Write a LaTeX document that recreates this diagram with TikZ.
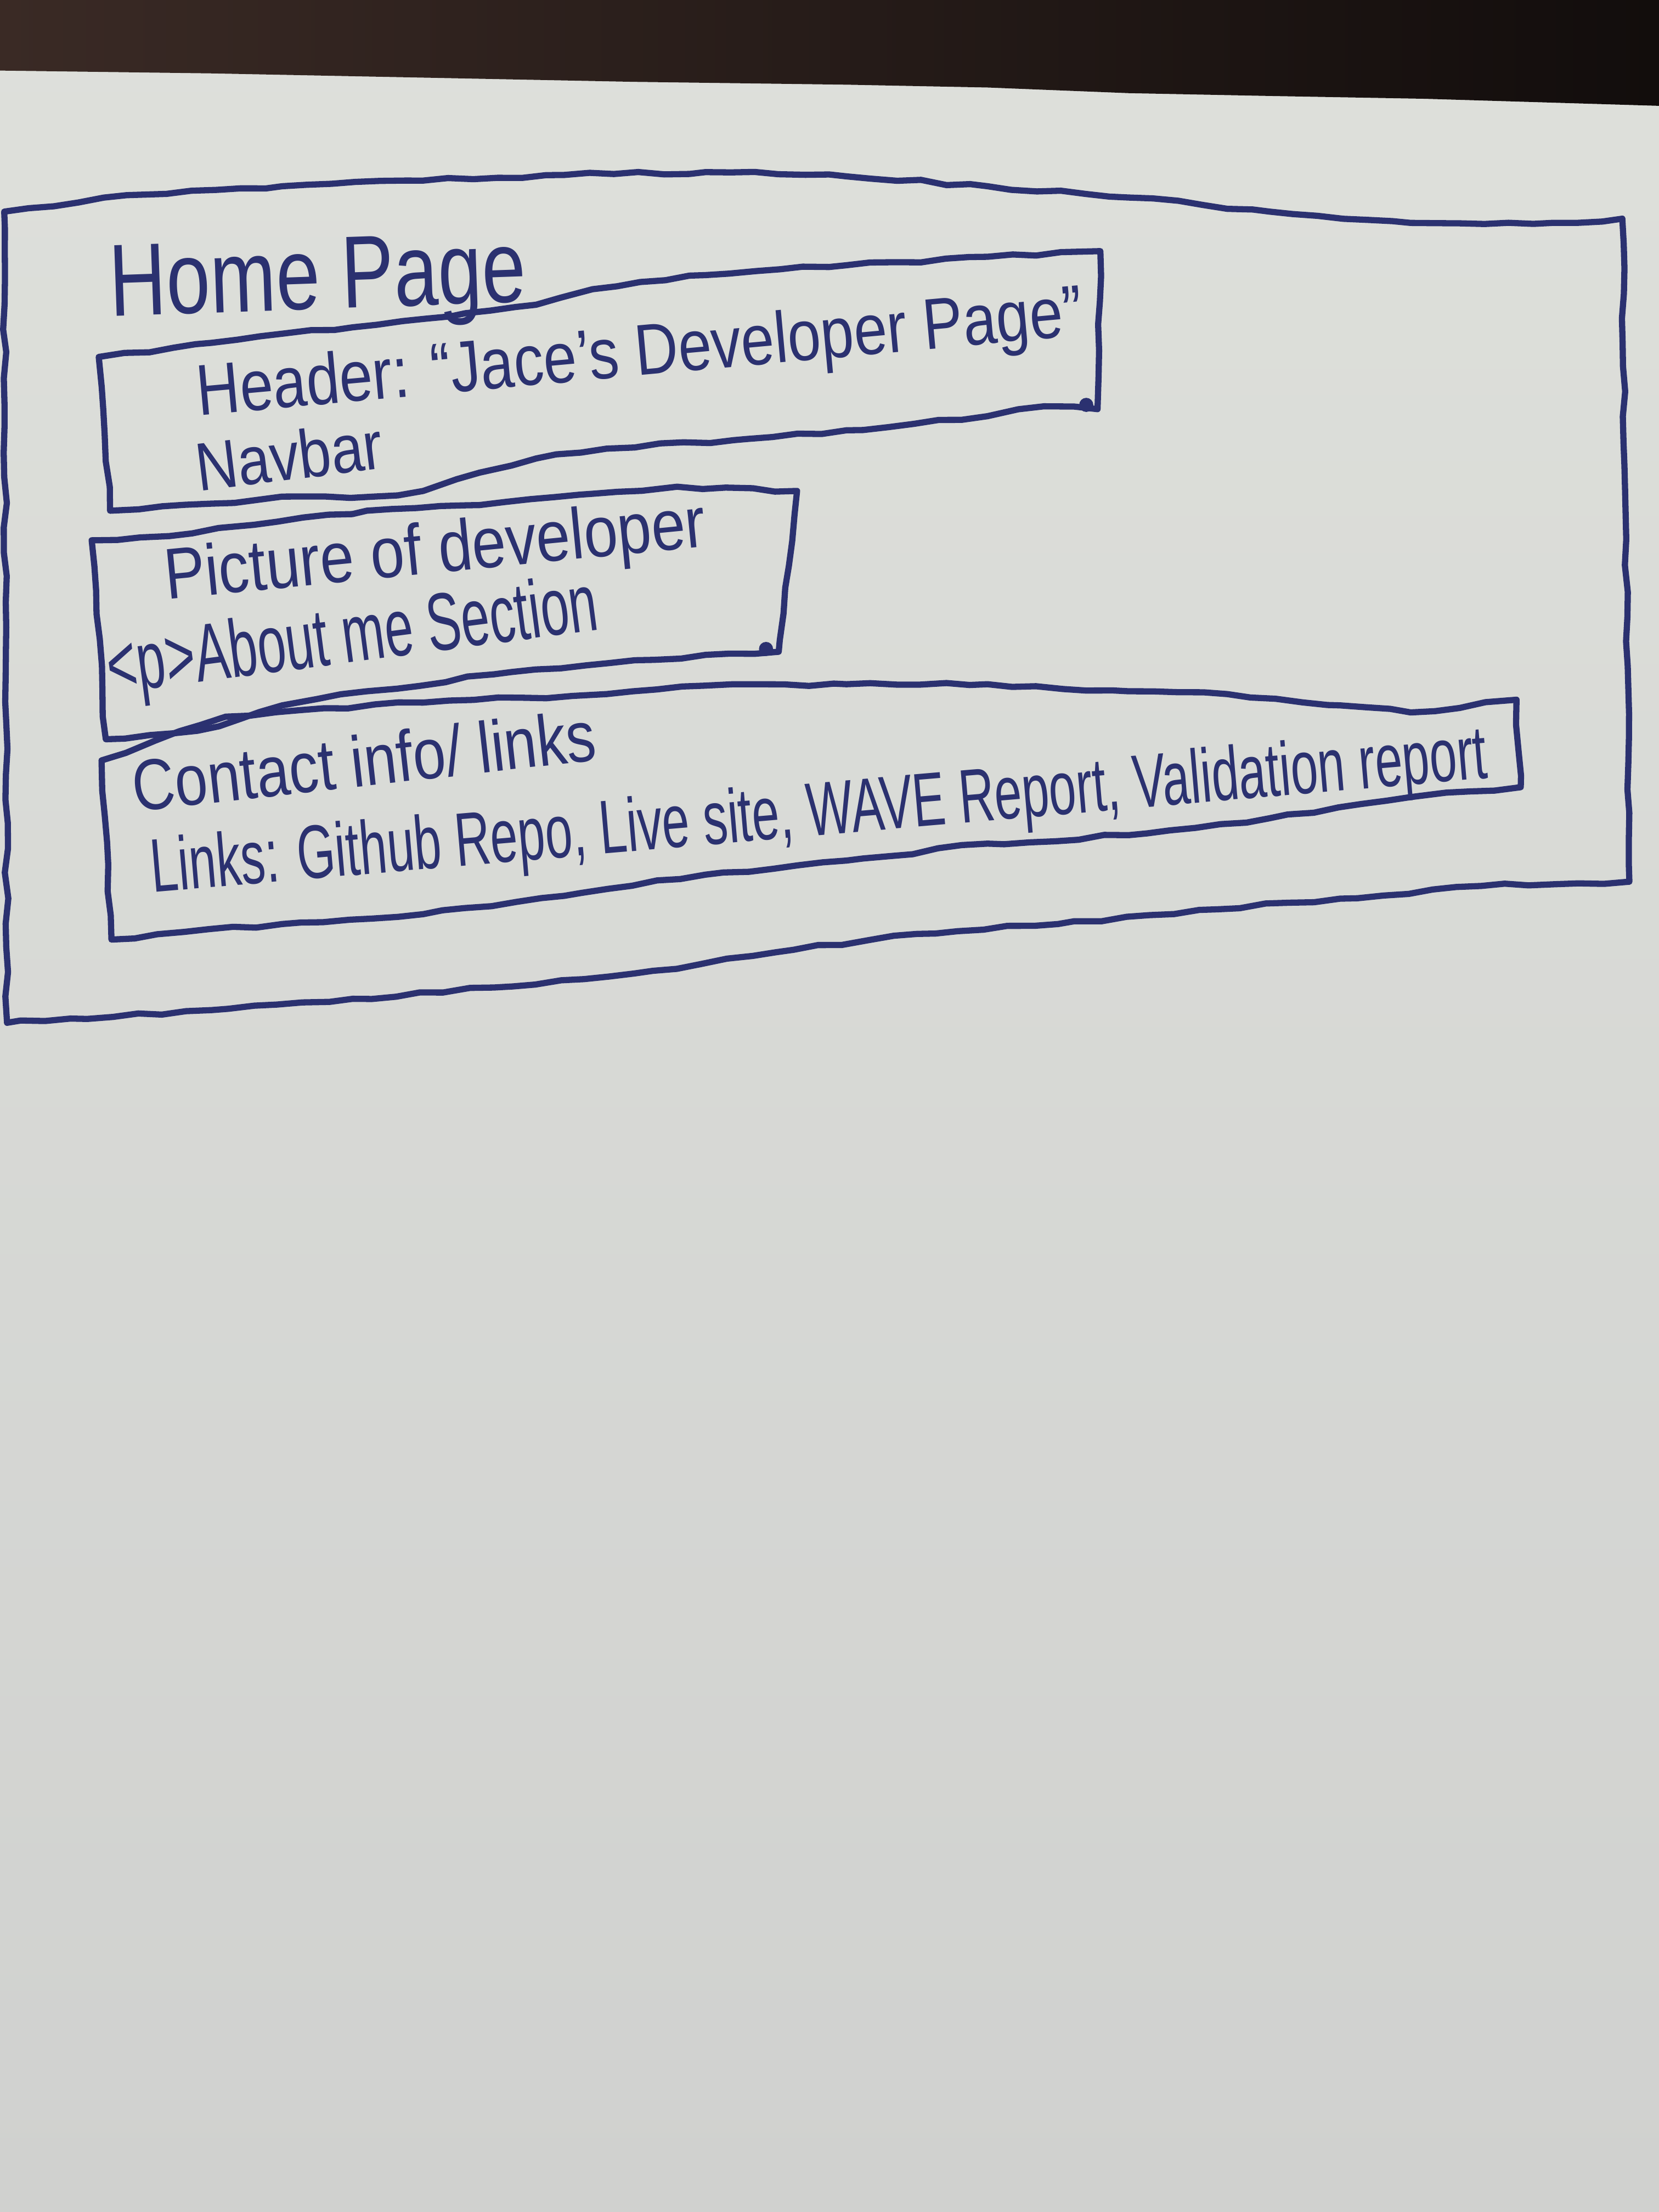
\documentclass[tikz,border=0pt]{standalone}
\usepackage{fontspec}
\setmainfont{Liberation Sans}
\usepackage{graphicx}
\usetikzlibrary{decorations.pathmorphing}
\begin{document}
\begin{tikzpicture}[x=0.01cm,y=-0.01cm,
  pen/.style={draw=ink, line width=1.25pt, line join=round, line cap=round,
    decorate, decoration={random steps, segment length=5pt, amplitude=0.35pt}},
  hand/.style={text=ink, inner sep=0pt, anchor=base},
]
\pgfmathsetseed{7}
\definecolor{ink}{HTML}{2B3170}
\definecolor{paperA}{HTML}{DEE0DB}
\definecolor{paperB}{HTML}{D0D1CF}
\definecolor{woodA}{HTML}{3A2A25}
\definecolor{woodB}{HTML}{120D0C}
\useasboundingbox (0,0) rectangle (1176,1568);
% paper
\shade[top color=paperA, bottom color=paperB] (0,0) rectangle (1176,1568);
% table behind the paper
\shade[left color=woodA, right color=woodB]
  (0,0) -- (1176,0) -- (1176,75) -- (1010,70) -- (900,68) -- (800,66)
  -- (700,62) -- (600,60) -- (450,58) -- (300,55) -- (150,52) -- (0,50) -- cycle;

% outer page frame
\draw[pen] (3,150) -- (100,138) -- (200,132) -- (300,128) -- (400,124) -- (500,122)
  -- (600,125) -- (700,132) -- (800,140) -- (900,150) -- (1000,158) -- (1100,158)
  -- (1150,155) -- (1155,625) -- (1050,628) -- (950,637) -- (850,645) -- (750,655)
  -- (650,662) -- (550,675) -- (450,690) -- (350,700) -- (250,708) -- (150,716)
  -- (50,722) -- (5,725) -- cycle;

% header box
\draw[pen] (70,253) -- (150,243) -- (250,232) -- (330,222) -- (380,216) -- (420,205)
  -- (500,195) -- (600,188) -- (700,182) -- (780,178) -- (778,290) -- (740,288)
  -- (700,295) -- (600,305) -- (520,312) -- (430,318) -- (380,325) -- (340,335)
  -- (300,348) -- (265,352) -- (200,352) -- (150,357) -- (78,362) -- cycle;
\fill[ink] (770,287) circle (5);

% picture / about box
\draw[pen] (65,383) -- (120,380) -- (180,372) -- (260,362) -- (340,358) -- (420,350)
  -- (480,345) -- (565,348) -- (552,462) -- (450,468) -- (350,478) -- (260,490)
  -- (200,500) -- (172,509) -- (140,518) -- (75,524) -- cycle;
\fill[ink] (543,460) circle (5);

% contact box
\draw[pen] (72,539) -- (110,525) -- (160,508) -- (230,502) -- (300,498) -- (430,492)
  -- (520,485) -- (600,485) -- (700,485) -- (800,490) -- (870,492) -- (950,500)
  -- (1000,505) -- (1075,496) -- (1078,558) -- (1000,565) -- (900,580) -- (800,592)
  -- (700,598) -- (600,610) -- (500,620) -- (400,635) -- (300,648) -- (200,655)
  -- (79,666) -- cycle;

% texts
\node[hand, rotate=2] (home) at (226,219) {\resizebox{2.95cm}{0.5cm}{Home Page}};
\node[hand, rotate=5.2] (header) at (455,266) {\resizebox{6.3cm}{0.37cm}{Header: “Jace's Developer Page”}};
\node[hand, rotate=7] (navbar) at (207,340) {\resizebox{1.33cm}{0.35cm}{Navbar}};
\node[hand, rotate=5.6] (picture) at (310,406) {\resizebox{3.85cm}{0.37cm}{Picture of developer}};
\node[hand, rotate=7.5] (about) at (252,469) {\resizebox{3.5cm}{0.42cm}{<p>About me Section}};
\node[hand, rotate=6.4] (contact) at (260,557) {\resizebox{3.3cm}{0.37cm}{Contact info/ links}};
\node[hand, rotate=4.9] (links) at (582,592) {\resizebox{9.5cm}{0.39cm}{Links: Github Repo, Live site, WAVE Report, Validation report}};
\end{tikzpicture}
\end{document}
